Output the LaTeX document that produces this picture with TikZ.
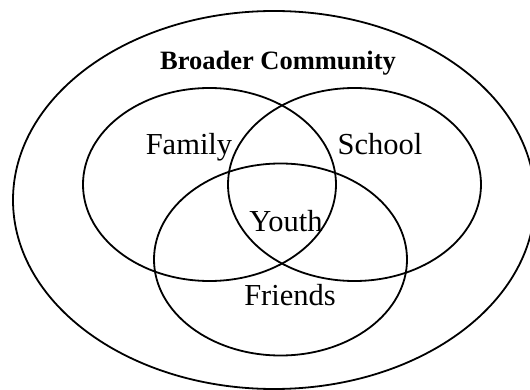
\documentclass[tikz,border=0pt]{standalone}
\usepackage{fontspec}
\setmainfont{Liberation Serif}
\usepackage{tikz}

\begin{document}
\begin{tikzpicture}[x=1pt,y=-1pt,
    ring/.style={line width=1.8pt},
    lbl/.style={anchor=base,inner sep=0pt,font=\fontsize{30.5}{36}\selectfont},
    title/.style={anchor=base,inner sep=0pt,font=\fontsize{26.5}{32}\selectfont\bfseries}]
    \clip (0,0) rectangle (530,390);

    % Outer circle
    \draw[ring] (274,200) ellipse [x radius=261, y radius=189];
    \node[title] (community) at (278,70) {Broader Community};

    % Three overlapping circles
    \draw[ring] (209.5,184.5) ellipse [x radius=126.5, y radius=96.5];
    \draw[ring] (354.5,184.5) ellipse [x radius=126.5, y radius=96.5];
    \draw[ring] (280.5,259.5) ellipse [x radius=126.5, y radius=96];

    % Labels
    \node[lbl] (family) at (189,155) {Family};
    \node[lbl] (school) at (380,155) {School};
    \node[lbl] (youth) at (286,232) {Youth};
    \node[lbl] (friends) at (290,305) {Friends};
\end{tikzpicture}
\end{document}
